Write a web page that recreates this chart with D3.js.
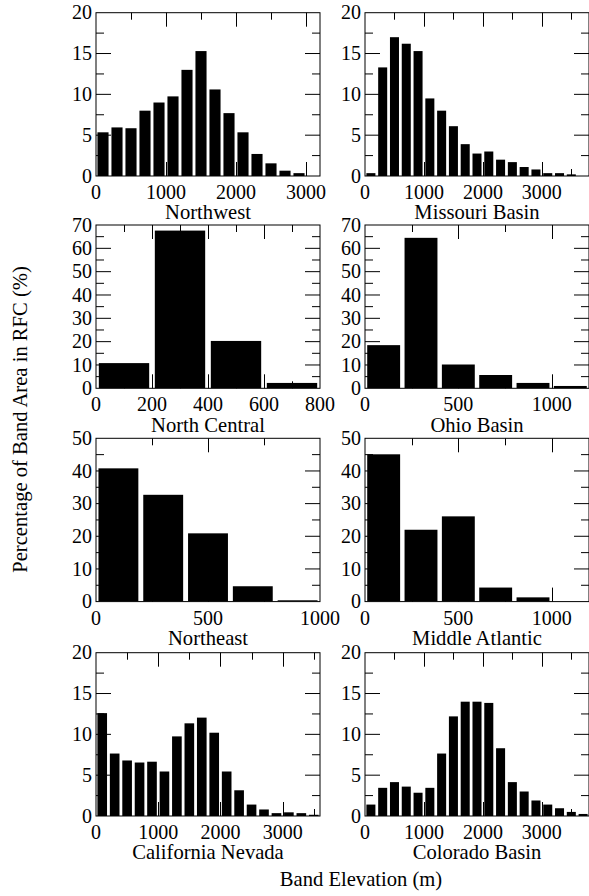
<!DOCTYPE html>
<html><head><meta charset="utf-8">
<script src="https://cdn.jsdelivr.net/npm/d3@7"></script>
<style>
body{margin:0;background:#fff}
svg{display:block}
</style>
</head><body>
<svg id="chart" width="589" height="896"></svg>
<script>
// ---- data ----
const panelNames = ["Northwest","Missouri Basin","North Central","Ohio Basin","Northeast","Middle Atlantic","California Nevada","Colorado Basin"];
const binCenters = [100,300,500,700,900,1100,1300,1500,1700,1900,2100,2300,2500,2700,2900,3100,3300,3500,3700];
const northwest = [5.35,5.95,5.85,8.0,9.0,9.75,13.0,15.3,10.6,7.7,5.35,2.7,1.55,0.65,0.35];
const missouriBasin = [0.35,13.3,17.0,16.2,15.3,9.5,8.0,6.1,3.9,2.75,3.0,2.0,1.7,1.1,0.8,0.35,0.35,0.2];
const northCentral = [10.8,67.6,20.3,2.3];
const ohioBasin = [18.5,64.5,10.2,5.7,2.3,1.0];
const northeast = [40.8,32.7,20.9,4.7,0.4];
const middleAtlantic = [45.1,22.0,26.1,4.3,1.3];
const californiaNevada = [12.6,7.65,6.8,6.55,6.65,5.45,9.75,11.35,12.05,10.2,5.45,3.15,1.4,0.8,0.35,0.45,0.35,0.15];
const coloradoBasin = [1.4,3.45,4.15,3.6,2.85,3.45,7.65,12.2,14.0,14.0,13.85,8.3,4.15,3.0,1.9,1.4,0.95,0.5,0.25];
const panelValues = [northwest,missouriBasin,northCentral,ohioBasin,northeast,middleAtlantic,californiaNevada,coloradoBasin];
const binWidth = 200;

const xMax = [3200,3800,800,1200,1000,1200,3600,3800];
const yMax = [20,20,70,70,50,50,20,20];
const xMajorTicks = [
  [0,1000,2000,3000],[0,1000,2000,3000],[0,200,400,600,800],[0,500,1000],
  [0,500,1000],[0,500,1000],[0,1000,2000,3000],[0,1000,2000,3000]];
const xMinorTicks = [
  [500,1500,2500],[500,1500,2500,3500],[100,300,500,700],[250,750],
  [250,750],[250,750],[500,1500,2500,3500],[500,1500,2500,3500]];
const yMajor20 = [0,5,10,15,20], yMinor20 = [2.5,7.5,12.5,17.5];
const yMajor70 = [0,10,20,30,40,50,60,70], yMinor70 = [5,15,25,35,45,55,65];
const yMajor50 = [0,10,20,30,40,50], yMinor50 = [5,15,25,35,45];
const yMajorTicks = [yMajor20,yMajor20,yMajor70,yMajor70,yMajor50,yMajor50,yMajor20,yMajor20];
const yMinorTicks = [yMinor20,yMinor20,yMinor70,yMinor70,yMinor50,yMinor50,yMinor20,yMinor20];

const yAxisTitle = "Percentage of Band Area in RFC (%)";
const xAxisTitle = "Band Elevation (m)";

// ---- layout ----
const colLeft = [96, 365];
const rowTop = [12.7, 225, 438.3, 652.7];
const pw = 224, ph = 163.3;
const tickFont = 20, titleFont = 20.6;
const FONT = '"Liberation Serif"';
const hMajor = 15, hMinor = 8, vMajor = 14, vMinor = 7;

const svg = d3.select("#chart");

function addText(sel, size) {
  return sel.attr("font-family", FONT).attr("font-size", size).attr("fill", "#000");
}

panelNames.forEach((name, i) => {
  const left = colLeft[i % 2], top = rowTop[Math.floor(i / 2)];
  const g = svg.append("g").attr("transform", `translate(${left},${top})`);
  const x = d3.scaleLinear().domain([0, xMax[i]]).range([0, pw]);
  const y = d3.scaleLinear().domain([0, yMax[i]]).range([ph, 0]);
  const vals = panelValues[i];
  const binPx = x(binWidth) - x(0);
  const gap = 2 + 0.065 * binPx;
  const bw = binPx - gap;

  const clipId = "clip" + i;
  g.append("clipPath").attr("id", clipId).append("rect").attr("width", pw).attr("height", ph);

  g.append("g").attr("clip-path", `url(#${clipId})`).selectAll("rect").data(vals).join("rect")
    .attr("x", (d, k) => x(binCenters[k]) - bw / 2)
    .attr("width", bw)
    .attr("y", d => y(d))
    .attr("height", d => y(0) - y(d))
    .attr("fill", "#000");

  const tk = g.append("g").attr("stroke", "#000").attr("stroke-width", 1);
  const inner = v => v > 0 && v < xMax[i];
  xMajorTicks[i].filter(inner).forEach(v => {
    const px = Math.round(x(v)) + 0.5;
    tk.append("line").attr("x1", px).attr("x2", px).attr("y1", ph).attr("y2", ph - vMajor);
    tk.append("line").attr("x1", px).attr("x2", px).attr("y1", 0).attr("y2", vMajor);
  });
  xMinorTicks[i].filter(inner).forEach(v => {
    const px = Math.round(x(v)) + 0.5;
    tk.append("line").attr("x1", px).attr("x2", px).attr("y1", ph).attr("y2", ph - vMinor);
    tk.append("line").attr("x1", px).attr("x2", px).attr("y1", 0).attr("y2", vMinor);
  });
  const innerY = v => v > 0 && v < yMax[i];
  yMajorTicks[i].filter(innerY).forEach(v => {
    const py = y(v);
    tk.append("line").attr("x1", 0).attr("x2", hMajor).attr("y1", py).attr("y2", py);
    tk.append("line").attr("x1", pw).attr("x2", pw - hMajor).attr("y1", py).attr("y2", py);
  });
  yMinorTicks[i].filter(innerY).forEach(v => {
    const py = y(v);
    tk.append("line").attr("x1", 0).attr("x2", hMinor).attr("y1", py).attr("y2", py);
    tk.append("line").attr("x1", pw).attr("x2", pw - hMinor).attr("y1", py).attr("y2", py);
  });

  g.append("rect").attr("x", 0).attr("y", 0).attr("width", pw).attr("height", ph)
    .attr("fill", "none").attr("stroke", "#000").attr("stroke-width", 1);

  addText(g.selectAll("text.xl").data(xMajorTicks[i]).join("text").attr("class", "xl")
    .attr("x", d => x(d)).attr("y", ph + 23).attr("text-anchor", "middle"), tickFont).text(d => d);
  addText(g.selectAll("text.yl").data(yMajorTicks[i]).join("text").attr("class", "yl")
    .attr("x", -4).attr("y", d => y(d)).attr("dy", "0.33em").attr("text-anchor", "end"), tickFont).text(d => d);
  addText(g.append("text").attr("x", pw / 2).attr("y", ph + 43.5).attr("text-anchor", "middle"), titleFont).text(name);
});

addText(svg.append("text").attr("transform", "translate(27,419.5) rotate(-90)")
  .attr("text-anchor", "middle"), titleFont).text(yAxisTitle);
addText(svg.append("text").attr("x", 361).attr("y", 886)
  .attr("text-anchor", "middle"), titleFont).text(xAxisTitle);
</script>
</body></html>
